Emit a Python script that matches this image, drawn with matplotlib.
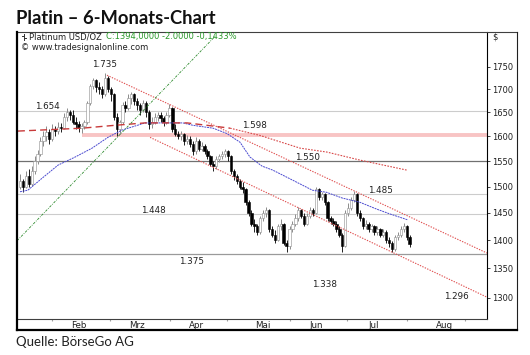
import matplotlib
matplotlib.use("Agg")
import matplotlib.pyplot as plt
from matplotlib.lines import Line2D
from matplotlib.ticker import FixedLocator, NullLocator

# daily OHLC, platinum USD/oz, mid January to end of July
opens = [1500, 1510, 1500, 1520, 1505, 1530, 1550, 1565, 1590, 1600, 1610, 1595, 1615, 1612, 1620,
         1618, 1640, 1650, 1645, 1630, 1625, 1618, 1622, 1630, 1670, 1708, 1720, 1705, 1700, 1690,
         1725, 1700, 1690, 1640, 1615, 1630, 1665, 1660, 1680, 1690, 1675, 1665, 1655, 1670, 1650,
         1625, 1630, 1640, 1645, 1638, 1630, 1645, 1660, 1615, 1605, 1600, 1605, 1590, 1595, 1585,
         1570, 1590, 1575, 1580, 1570, 1560, 1545, 1540, 1555, 1560, 1565, 1570, 1560, 1530, 1520,
         1510, 1500, 1495, 1470, 1450, 1430, 1425, 1415, 1440, 1450, 1455, 1420, 1410, 1400, 1425,
         1430, 1395, 1390, 1420, 1430, 1440, 1455, 1445, 1430, 1445, 1455, 1450, 1495, 1480, 1485,
         1470, 1440, 1435, 1430, 1420, 1410, 1390, 1450, 1460, 1475, 1485, 1450, 1440, 1425, 1430,
         1420, 1425, 1415, 1420, 1410, 1415, 1400, 1395, 1385, 1405, 1410, 1420, 1425, 1405]
highs = [1525, 1515, 1530, 1535, 1540, 1560, 1572, 1598, 1612, 1622, 1615, 1625, 1622, 1630, 1628,
         1648, 1660, 1656, 1656, 1640, 1632, 1628, 1635, 1675, 1712, 1725, 1722, 1715, 1708, 1735,
         1730, 1705, 1692, 1648, 1635, 1672, 1675, 1690, 1695, 1692, 1682, 1670, 1676, 1675, 1655,
         1640, 1648, 1652, 1650, 1642, 1650, 1668, 1662, 1625, 1612, 1612, 1608, 1602, 1600, 1590,
         1598, 1594, 1588, 1585, 1574, 1563, 1550, 1560, 1565, 1570, 1575, 1572, 1562, 1535, 1525,
         1515, 1508, 1498, 1475, 1455, 1438, 1430, 1445, 1455, 1462, 1458, 1425, 1418, 1430, 1438,
         1432, 1400, 1425, 1435, 1448, 1462, 1458, 1450, 1450, 1462, 1460, 1500, 1498, 1490, 1488,
         1472, 1445, 1440, 1435, 1425, 1413, 1455, 1468, 1480, 1492, 1488, 1455, 1443, 1437, 1433,
         1430, 1428, 1425, 1422, 1420, 1418, 1405, 1398, 1410, 1415, 1425, 1432, 1428, 1410]
lows = [1495, 1490, 1498, 1500, 1502, 1525, 1545, 1560, 1580, 1590, 1585, 1590, 1600, 1605, 1610,
        1615, 1632, 1635, 1625, 1615, 1610, 1608, 1615, 1625, 1665, 1700, 1695, 1690, 1680, 1685,
        1695, 1675, 1635, 1600, 1605, 1625, 1650, 1655, 1668, 1665, 1655, 1645, 1650, 1640, 1615,
        1618, 1625, 1632, 1630, 1622, 1625, 1640, 1610, 1600, 1595, 1592, 1582, 1585, 1578, 1562,
        1565, 1570, 1570, 1565, 1555, 1540, 1530, 1535, 1548, 1555, 1558, 1550, 1525, 1512, 1505,
        1495, 1488, 1465, 1445, 1425, 1415, 1410, 1412, 1435, 1442, 1415, 1405, 1395, 1398, 1418,
        1392, 1378, 1385, 1415, 1425, 1435, 1440, 1425, 1428, 1440, 1444, 1448, 1475, 1475, 1465,
        1435, 1430, 1425, 1415, 1405, 1378, 1388, 1445, 1455, 1470, 1445, 1435, 1420, 1420, 1415,
        1415, 1410, 1410, 1405, 1405, 1395, 1388, 1378, 1380, 1400, 1405, 1415, 1400, 1388]
closes = [1510, 1500, 1520, 1505, 1530, 1550, 1565, 1590, 1600, 1610, 1595, 1615, 1612, 1620, 1618,
          1640, 1650, 1645, 1630, 1625, 1618, 1622, 1630, 1670, 1708, 1720, 1705, 1700, 1690, 1725,
          1700, 1690, 1640, 1615, 1630, 1665, 1660, 1680, 1690, 1675, 1665, 1655, 1670, 1650, 1625,
          1630, 1640, 1645, 1638, 1630, 1645, 1660, 1615, 1605, 1600, 1605, 1590, 1595, 1585, 1570,
          1590, 1575, 1580, 1570, 1560, 1545, 1540, 1555, 1560, 1565, 1570, 1560, 1530, 1520, 1510,
          1500, 1495, 1470, 1450, 1430, 1425, 1415, 1440, 1450, 1455, 1420, 1410, 1400, 1425, 1430,
          1395, 1390, 1420, 1430, 1440, 1455, 1445, 1430, 1445, 1455, 1450, 1495, 1480, 1485, 1470,
          1440, 1435, 1430, 1420, 1410, 1390, 1450, 1460, 1475, 1485, 1450, 1440, 1425, 1430, 1420,
          1425, 1415, 1420, 1410, 1415, 1400, 1395, 1385, 1405, 1410, 1420, 1425, 1405, 1394]

# blue moving average (bar index, price)
ma_idx = [0, 2.7, 7.5, 13, 18.8, 24.6, 30, 34.8, 42.7, 55.6, 59, 65.9, 70.6, 75.1, 78.5, 82.6,
          86.3, 93.2, 99.8, 104.6, 110, 116, 121.8, 126.3, 132.4]
ma_vals = [1490, 1493, 1516, 1542, 1558, 1576, 1598, 1613, 1628, 1628, 1623, 1617, 1606, 1588,
           1558, 1540, 1532, 1512, 1493, 1489, 1478, 1470, 1457, 1448, 1437]

# red long-term average (dashed part, then dotted part)
ma2_idx = [-0.7, 21.2, 32.4, 42.7, 57, 63.8, 71.7]
ma2_vals = [1611, 1617, 1623, 1628, 1628, 1623, 1617]
ma2b_idx = [71.7, 81.9, 95.6, 104.8, 116, 132.1]
ma2b_vals = [1617, 1602, 1576, 1568, 1552, 1532]

# trend lines: (start index, start price, end index, end price)
upper_trend = (29.7, 1731, 159.4, 1377)
lower_trend = (44.4, 1598, 159.4, 1301)
green_trend = (-1.0, 1399, 66.9, 1822)
pink_level = (21.2, 1602)

grey_levels = [1654, 1485, 1448]
dark_level = 1550
low_level = 1375

level_texts = ["1.735", "1.654", "1.598", "1.550", "1.485", "1.448", "1.375", "1.338", "1.296"]
level_text_idx = [29, 9.2, 80.2, 98.3, 122.9, 45.4, 58.4, 104.1, 148.8]
level_text_price = [1754, 1662, 1622, 1558, 1493, 1454, 1363, 1322, 1302]

month_names = ["Feb", "Mrz", "Apr", "Mai", "Jun", "Jul", "Aug"]
month_centers = [20.1, 39.9, 60.1, 82.9, 101, 120.8, 145]
month_starts = [10.9, 30.7, 51.2, 70.6, 92.2, 111.6, 132.1, 151.9]
price_ticks = [1300, 1350, 1400, 1450, 1500, 1550, 1600, 1650, 1700, 1750]

W, H = 530, 355
fig = plt.figure(figsize=(W / 100, H / 100), dpi=100)
ax = fig.add_axes([17 / W, 1 - 319 / H, 470 / W, 287 / H])
ax.set_yscale("log")
ax.set_xlim(-1.02, 159.4)
ax.set_ylim(1265, 1830)

# horizontal levels
for lv in grey_levels:
    ax.axhline(lv, color="#cccccc", lw=0.8, zorder=1)
ax.axhline(dark_level, color="#707070", lw=0.9, zorder=1)
ax.axhline(low_level, color="#9a9a9a", lw=0.9, zorder=1)
ax.plot([pink_level[0], 159.4], [pink_level[1]] * 2, color="#f8c4c4", lw=2.8,
        solid_capstyle="butt", zorder=1)

# candles
for i in range(len(closes)):
    o, h, l, c = opens[i], highs[i], lows[i], closes[i]
    down = c < o
    wick = "#202020" if down else "#8c8c8c"
    ax.vlines(i, l, h, color=wick, lw=0.7, zorder=3)
    lo, hi = min(o, c), max(o, c)
    if hi - lo < 1:
        hi = lo + 1
    ax.bar(i, hi - lo, bottom=lo, width=0.8,
           color="black" if down else "white",
           edgecolor="black" if down else "#8c8c8c", lw=0.4, zorder=4)

# averages
ax.plot(ma_idx, ma_vals, color="#4a4ad0", lw=0.7, ls=(0, (2, 0.8)), zorder=5)
ax.plot(ma2_idx, ma2_vals, color="#c83a3a", lw=1.0, ls=(0, (5, 3)), zorder=5)
ax.plot(ma2b_idx, ma2b_vals, color="#d84848", lw=0.8, ls=(0, (1.5, 1.2)), zorder=5)

# trend lines
for t in (upper_trend, lower_trend):
    ax.plot([t[0], t[2]], [t[1], t[3]], color="#e05050", lw=0.8, ls=(0, (1.2, 1.2)), zorder=5)
ax.plot([green_trend[0], green_trend[2]], [green_trend[1], green_trend[3]],
        color="#2e8b2e", lw=0.6, ls=(0, (3, 1.5, 1, 1.5)), zorder=5)

for t, xi, yp in zip(level_texts, level_text_idx, level_text_price):
    ax.text(xi, yp, t, fontsize=6.3, ha="center", va="center", color="#202020",
            family="DejaVu Sans", zorder=6)

# axes styling
for s in ("left", "top"):
    ax.spines[s].set_visible(False)
ax.spines["right"].set_linewidth(0.8)
ax.spines["bottom"].set_linewidth(0.8)
ax.spines["bottom"].set_color("#404040")

ax.yaxis.tick_right()
ax.yaxis.set_major_locator(FixedLocator(price_ticks))
ax.yaxis.set_minor_locator(NullLocator())
ax.set_yticklabels([str(p) for p in price_ticks])
ax.tick_params(axis="y", which="major", length=2, width=0.6, pad=1.5,
               labelsize=6, colors="#202020")

ax.set_xticks(month_centers)
ax.set_xticklabels(month_names)
ax.set_xticks(month_starts, minor=True)
ax.tick_params(axis="x", which="major", length=0, pad=1.5, labelsize=6.3, colors="#202020")
ax.tick_params(axis="x", which="minor", length=1.5, width=0.8, color="#a0a0a0")

# outer frame
def px(x, y):
    return x / W, 1 - y / H

for (x0, y0), (x1, y1), col, lw in [((17, 32), (517, 32), "#404040", 0.8),
                                     ((517, 32), (517, 330), "#202020", 0.8),
                                     ((17, 330), (517, 330), "#000000", 1.6),
                                     ((17, 32), (17, 330), "#000000", 1.6)]:
    a, b = px(x0, y0)
    c, d = px(x1, y1)
    fig.add_artist(Line2D([a, c], [b, d], color=col, lw=lw))

# small symbol icon in the header
a, b = px(24, 34)
c, d = px(24, 40)
fig.add_artist(Line2D([a, c], [b, d], color="#303030", lw=0.7))
a, b = px(22, 36)
c, d = px(24, 36)
fig.add_artist(Line2D([a, c], [b, d], color="#303030", lw=0.7))
a, b = px(24, 38)
c, d = px(26, 38)
fig.add_artist(Line2D([a, c], [b, d], color="#303030", lw=0.7))

fig.text(*px(29, 37), "Platinum USD/OZ", fontsize=6, va="center", color="#202020",
         family="DejaVu Sans")
fig.text(*px(106, 37), "C:1394,0000 -2.0000 -0,1433%", fontsize=6, va="center",
         color="#2a9a2a", family="DejaVu Sans")
fig.text(*px(21, 47), "\u00a9 www.tradesignalonline.com", fontsize=6, va="center",
         color="#202020", family="DejaVu Sans")
fig.text(*px(492, 37), "$", fontsize=6, va="center", color="#202020", family="DejaVu Sans")

fig.text(*px(16, 18), "Platin \u2013 6-Monats-Chart", fontsize=13.2, fontweight="bold",
         va="center", family="Lato", color="#111111")
fig.text(*px(16, 342), "Quelle: B\u00f6rseGo AG", fontsize=9.5, va="center",
         family="Lato", color="#222222")

fig.savefig("out.png", dpi=100)
